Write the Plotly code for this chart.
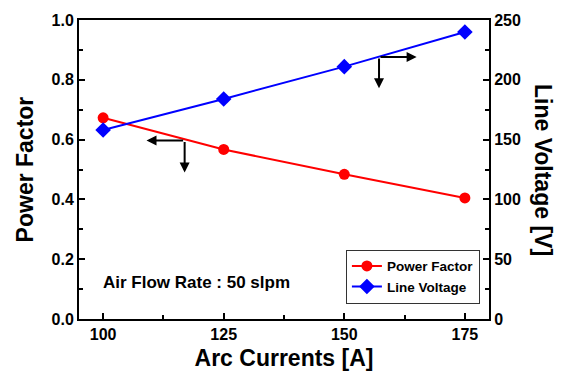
import plotly.graph_objects as go

currents = [100, 125, 150, 175]
power_factor = [0.673, 0.567, 0.484, 0.405]
line_voltage = [158, 184, 211, 240]

FONT = "Liberation Sans"

fig = go.Figure()
fig.add_trace(go.Scatter(x=currents, y=power_factor, mode="lines+markers", name="<b>Power Factor</b>",
                         line=dict(color="#ff0000", width=2),
                         marker=dict(symbol="circle", size=11, color="#ff0000")))
fig.add_trace(go.Scatter(x=currents, y=line_voltage, mode="lines+markers", name="<b>Line Voltage</b>",
                         line=dict(color="#0000ff", width=2),
                         marker=dict(symbol="diamond", size=12, color="#0000ff"), yaxis="y2"))

axis_common = dict(showgrid=False, zeroline=False, showline=True, linecolor="black", linewidth=2,
                   ticks="inside", ticklen=6, tickwidth=2, tickcolor="black",
                   tickfont=dict(family=FONT, size=16, color="black", weight="bold"))

fig.update_layout(
    width=563, height=380,
    margin=dict(l=79, r=74, t=17, b=61),
    plot_bgcolor="white", paper_bgcolor="white",
    showlegend=True,
    legend=dict(x=0.651, y=0.232, xanchor="left", yanchor="top", bordercolor="#333333", borderwidth=1,
                bgcolor="white", font=dict(family=FONT, size=13.5, color="black"), tracegroupgap=4),
    xaxis=dict(range=[95, 180], tickvals=[100, 125, 150, 175], mirror=True,
               minor=dict(tickvals=[112.5, 137.5, 162.5], ticks="inside", ticklen=4, tickwidth=2, tickcolor="black"),
               title=dict(text="<b>Arc Currents [A]</b>", font=dict(family=FONT, size=23, color="black"), standoff=8),
               **axis_common),
    yaxis=dict(range=[0, 1.0], tickvals=[0, 0.2, 0.4, 0.6, 0.8, 1.0], ticktext=["0.0", "0.2", "0.4", "0.6", "0.8", "1.0"],
               minor=dict(tickvals=[0.1, 0.3, 0.5, 0.7, 0.9], ticks="inside", ticklen=4, tickwidth=2, tickcolor="black"),
               **axis_common),
    yaxis2=dict(range=[0, 250], overlaying="y", side="right", tickvals=[0, 50, 100, 150, 200, 250],
                minor=dict(tickvals=[25, 75, 125, 175, 225], ticks="inside", ticklen=4, tickwidth=2, tickcolor="black"),
                **axis_common),
)

annotations = [
    dict(text="<b>Power Factor</b>", xref="paper", yref="paper", x=-0.132, y=0.5, textangle=-90,
         showarrow=False, font=dict(family=FONT, size=23, color="black"), xanchor="center", yanchor="middle"),
    dict(text="<b>Line Voltage [V]</b>", xref="paper", yref="paper", x=1.133, y=0.5, textangle=90,
         showarrow=False, font=dict(family=FONT, size=23, color="black"), xanchor="center", yanchor="middle"),
    dict(text="<b>Air Flow Rate : 50 slpm</b>", xref="x", yref="y", x=99.6, y=0.123, xanchor="left",
         showarrow=False, font=dict(family=FONT, size=17, color="black")),
]

arrow = dict(showarrow=True, arrowhead=2, arrowsize=1, arrowwidth=2, arrowcolor="black", text="")
# left group arrows (Power Factor -> left axis)
annotations.append(dict(x=109.0, y=0.597, ax=116.9, ay=0.597, xref="x", yref="y", axref="x", ayref="y", **arrow))
annotations.append(dict(x=116.9, y=0.49, ax=116.9, ay=0.597, xref="x", yref="y", axref="x", ayref="y", **arrow))
# right group arrows (Line Voltage -> right axis)
annotations.append(dict(x=165.0, y=219, ax=157.2, ay=219, xref="x", yref="y2", axref="x", ayref="y2", **arrow))
annotations.append(dict(x=157.2, y=193, ax=157.2, ay=219, xref="x", yref="y2", axref="x", ayref="y2", **arrow))

fig.update_layout(annotations=annotations)
fig.write_html("out.html")
